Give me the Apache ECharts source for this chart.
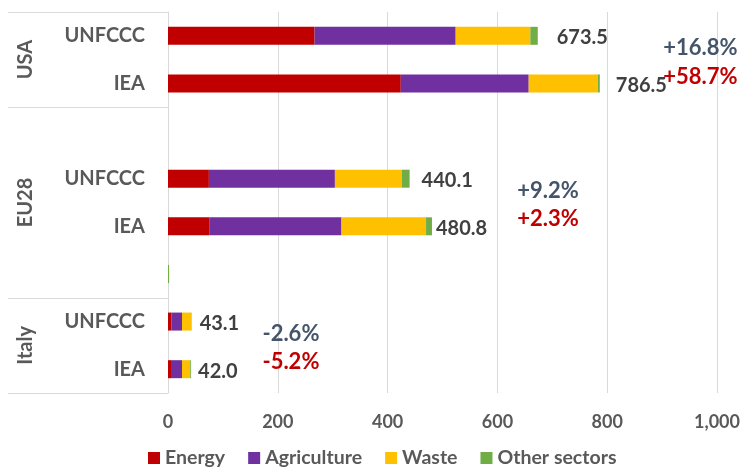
<!DOCTYPE html>
<html><head><meta charset="utf-8">
<script src="https://cdn.jsdelivr.net/npm/echarts@6/dist/echarts.min.js"></script>
<style>html,body{margin:0;padding:0;background:#fff}#c{width:743px;height:469px}</style>
</head><body><div id="c"></div>
<script>
// ---- data ----
const categories = ['UNFCCC', 'IEA', '', 'UNFCCC', 'IEA', '', 'UNFCCC', 'IEA'];
const groups = ['USA', 'EU28', 'Italy'];
const groupSizes = [2, 4, 2];
const energy      = [267, 424, null, 74.5, 76, null, 6, 5.5];
const agriculture = [257, 233, null, 229.5, 240, null, 19.5, 20];
const waste       = [136, 126, null, 122, 154, null, 17, 15];
const other       = [13.5, 3.5, null, 14.1, 10.8, 2, 0.6, 1.5];
const totals      = [673.5, 786.5, null, 440.1, 480.8, null, 43.1, 42.0];
const pctUNFCCC   = ['+16.8%', '+9.2%', '-2.6%'];
const pctIEA      = ['+58.7%', '+2.3%', '-5.2%'];
const xTicks      = [0, 200, 400, 600, 800, 1000];

// ---- chart ----
const FONT = 'Lato, "Noto Sans", sans-serif';
const GREY = '#595959';
const chart = echarts.init(document.getElementById('c'));
const labelGap = [19, 16, 0, 12, 4, 0, 8, 7];

function barSeries(name, data, color) {
  return {
    name, type: 'bar', stack: 'total', data, barWidth: 18,
    itemStyle: { color }, emphasis: { disabled: true }
  };
}

chart.setOption({
  animation: false,
  grid: { left: 168, right: 25, top: 12, bottom: 76 },
  xAxis: {
    type: 'value', min: xTicks[0], max: xTicks[xTicks.length - 1], interval: 200,
    axisLine: { show: false }, axisTick: { show: false },
    splitLine: { lineStyle: { color: '#d9d9d9', width: 1 } },
    axisLabel: {
      color: GREY, fontFamily: FONT, fontWeight: 'bold', fontSize: 18, margin: 20,
      formatter: v => v.toLocaleString('en-US')
    }
  },
  yAxis: {
    type: 'category', data: categories, inverse: true,
    axisLine: { lineStyle: { color: '#d9d9d9' } }, axisTick: { show: false },
    axisLabel: { color: GREY, fontFamily: FONT, fontWeight: 'bold', fontSize: 20, margin: 23 }
  },
  legend: {
    top: 448, left: 148, padding: 0, itemWidth: 12, itemHeight: 12, itemGap: 23,
    icon: 'rect',
    textStyle: { color: GREY, fontFamily: FONT, fontWeight: 'bold', fontSize: 19.5 },
    data: ['Energy', 'Agriculture', 'Waste', 'Other sectors']
  },
  series: [
    barSeries('Energy', energy, '#C00000'),
    barSeries('Agriculture', agriculture, '#7030A0'),
    barSeries('Waste', waste, '#FFC000'),
    barSeries('Other sectors', other, '#70AD47')
  ]
});

// ---- group labels, box lines, total labels and change annotations ----
const c0 = chart.convertToPixel({ gridIndex: 0 }, [0, 0]);
const c1 = chart.convertToPixel({ gridIndex: 0 }, [0, 1]);
const band = c1[1] - c0[1];
const axisX = c0[0];
const topY = c0[1] - band / 2;
const graphics = [];
const pctX = [902, 636, 172];
const lineStyle = { stroke: '#d9d9d9', lineWidth: 1 };

totals.forEach((t, i) => {
  if (t == null) return;
  const p = chart.convertToPixel({ gridIndex: 0 }, [t, i]);
  graphics.push({
    type: 'text', x: p[0] + labelGap[i], y: p[1] + 2, silent: true, z: 10,
    style: { text: t.toFixed(1), fill: '#404040', font: 'bold 20px ' + FONT, textAlign: 'left', textVerticalAlign: 'middle' }
  });
});

let start = 0;
graphics.push({ type: 'line', shape: { x1: 8, y1: Math.round(topY) + 0.5, x2: axisX, y2: Math.round(topY) + 0.5 }, style: lineStyle, silent: true });
groups.forEach((g, gi) => {
  const yStart = topY + start * band;
  const yEnd = yStart + groupSizes[gi] * band;
  graphics.push({ type: 'line', shape: { x1: 8, y1: Math.round(yEnd) + 0.5, x2: axisX, y2: Math.round(yEnd) + 0.5 }, style: lineStyle, silent: true });
  graphics.push({
    type: 'text', x: 26, y: (yStart + yEnd) / 2, rotation: Math.PI / 2, silent: true,
    style: { text: g, fill: GREY, font: 'bold 20px ' + FONT, textAlign: 'center', textVerticalAlign: 'middle' }
  });
  const idxU = categories.indexOf('UNFCCC', start);
  const pU = chart.convertToPixel({ gridIndex: 0 }, [pctX[gi], idxU]);
  const pI = chart.convertToPixel({ gridIndex: 0 }, [pctX[gi], idxU + 1]);
  graphics.push({
    type: 'text', x: pU[0], y: pU[1] + 12, silent: true,
    style: { text: pctUNFCCC[gi], fill: '#44546A', font: 'bold 22px ' + FONT, textAlign: 'left', textVerticalAlign: 'middle' }
  });
  graphics.push({
    type: 'text', x: pI[0], y: pI[1] - 7, silent: true,
    style: { text: pctIEA[gi], fill: '#C00000', font: 'bold 22px ' + FONT, textAlign: 'left', textVerticalAlign: 'middle' }
  });
  start += groupSizes[gi];
});
chart.setOption({ graphic: graphics });
</script>
</body></html>
